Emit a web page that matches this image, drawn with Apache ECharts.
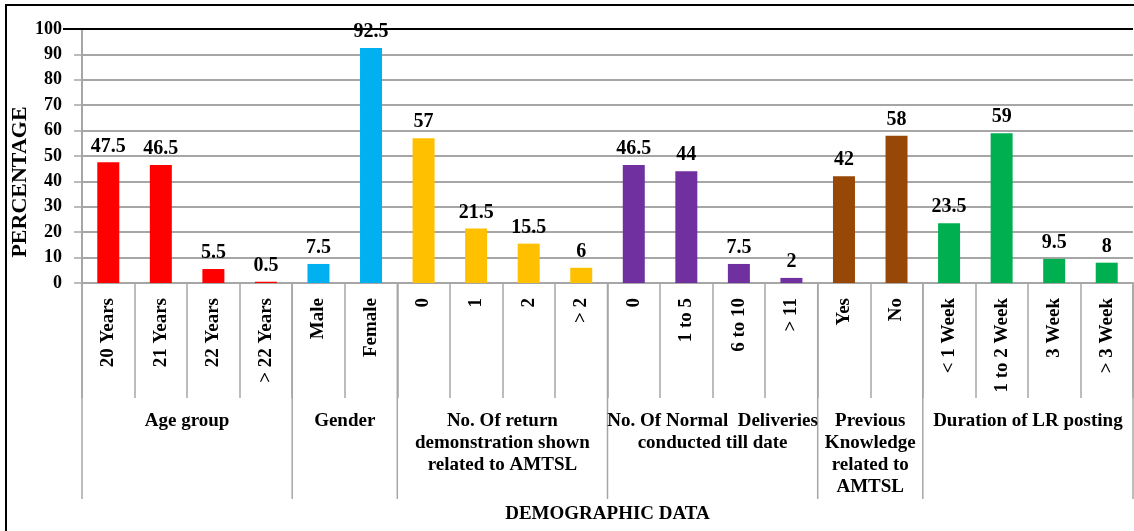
<!DOCTYPE html>
<html>
<head>
<meta charset="utf-8">
<script src="https://cdn.jsdelivr.net/npm/echarts@6/dist/echarts.min.js"></script>
<style>
  html, body { margin: 0; padding: 0; background: #fff; }
  #chart { width: 1134px; height: 531px; }
</style>
</head>
<body>
<div id="chart"></div>
<script>
// Category labels along the x axis
const categories = [
  '20 Years', '21 Years', '22 Years', '> 22 Years',
  'Male', 'Female',
  '0', '1', '2', '> 2',
  '0', '1 to 5', '6 to 10', '> 11',
  'Yes', 'No',
  '< 1 Week', '1 to 2 Week', '3 Week', '> 3 Week'
];

// Percentages for each category
const values = [
  47.5, 46.5, 5.5, 0.5,
  7.5, 92.5,
  57, 21.5, 15.5, 6,
  46.5, 44, 7.5, 2,
  42, 58,
  23.5, 59, 9.5, 8
];

// Group headings (lines separated by \n) and the number of categories in each
const groupNames = [
  'Age group',
  'Gender',
  'No. Of return\ndemonstration shown\nrelated to AMTSL',
  'No. Of Normal  Deliveries\nconducted till date',
  'Previous\nKnowledge\nrelated to\nAMTSL',
  'Duration of LR posting'
];
const groupSizes = [4, 2, 4, 4, 2, 4];

// One bar colour per group
const groupColors = ['#FF0000', '#00B0F0', '#FFC000', '#7030A0', '#974706', '#00B050'];

const yTicks = { min: 0, max: 100, interval: 10 };

const SERIF = "'Liberation Serif', 'Times New Roman', serif";
const GRID_GREY = '#A6A6A6';

// Map each category to the colour of its group
const barColors = [];
groupSizes.forEach((n, g) => { for (let i = 0; i < n; i++) barColors.push(groupColors[g]); });

const chart = echarts.init(document.getElementById('chart'));

chart.setOption({
  animation: false,
  backgroundColor: '#ffffff',
  grid: { left: 82, right: 1, top: 29, bottom: 248, containLabel: false },
  xAxis: {
    type: 'category',
    data: categories,
    axisLine: { lineStyle: { color: GRID_GREY, width: 2 } },
    axisTick: { show: true, length: 115, lineStyle: { color: GRID_GREY, width: 1.5 } },
    axisLabel: {
      interval: 0,
      rotate: 90,
      margin: 15,
      color: '#000',
      fontFamily: SERIF,
      fontWeight: 'bold',
      fontSize: 19
    }
  },
  yAxis: {
    type: 'value',
    min: yTicks.min,
    max: yTicks.max,
    interval: yTicks.interval,
    axisLine: { show: true, lineStyle: { color: GRID_GREY, width: 2 } },
    axisTick: { show: true, length: 8, lineStyle: { color: GRID_GREY, width: 1.5 } },
    axisLabel: {
      margin: 20,
      color: '#000',
      fontFamily: SERIF,
      fontWeight: 'bold',
      fontSize: 18
    },
    splitLine: { lineStyle: { color: GRID_GREY, width: 2 } }
  },
  series: [{
    type: 'bar',
    barWidth: 22,
    data: values.map((v, i) => ({ value: v, itemStyle: { color: barColors[i] } })),
    label: {
      show: true,
      position: 'top',
      distance: 6,
      color: '#000',
      fontFamily: SERIF,
      fontWeight: 'bold',
      fontSize: 20
    }
  }]
});

// Group separators, group headings, axis titles and frame
function drawExtras() {
  const c0 = chart.convertToPixel({ xAxisIndex: 0 }, 0);
  const c1 = chart.convertToPixel({ xAxisIndex: 0 }, 1);
  const band = c1 - c0;
  const y0 = chart.convertToPixel({ yAxisIndex: 0 }, yTicks.min);
  const y100 = chart.convertToPixel({ yAxisIndex: 0 }, yTicks.max);
  const boundary = (idx) => c0 - band / 2 + idx * band;

  const graphics = [];

  // Frame: left and top edges
  graphics.push({
    type: 'polyline',
    shape: { points: [[6, 531], [6, 5], [1134, 5]] },
    style: { stroke: '#000', lineWidth: 2, fill: null },
    z: 10
  });

  // Dark top gridline at 100
  graphics.push({
    type: 'line',
    shape: { x1: 63, y1: y100, x2: boundary(categories.length), y2: y100 },
    style: { stroke: '#000', lineWidth: 2 },
    z: 10
  });

  // Long separators between groups and group headings
  let start = 0;
  const bounds = [0];
  groupSizes.forEach((n, g) => {
    const end = start + n;
    bounds.push(end);
    const cx = (boundary(start) + boundary(end)) / 2;
    graphics.push({
      type: 'text',
      x: cx,
      y: 410,
      style: {
        text: groupNames[g],
        fill: '#000',
        fontFamily: SERIF,
        fontWeight: 'bold',
        fontSize: 19,
        align: 'center',
        verticalAlign: 'top',
        lineHeight: 22
      },
      z: 10
    });
    start = end;
  });
  bounds.forEach((b) => {
    graphics.push({
      type: 'line',
      shape: { x1: boundary(b), y1: y0, x2: boundary(b), y2: 499 },
      style: { stroke: GRID_GREY, lineWidth: 1.5 },
      z: 5
    });
  });

  // Axis titles
  graphics.push({
    type: 'text',
    x: 20,
    y: 182,
    rotation: Math.PI / 2,
    style: {
      text: 'PERCENTAGE',
      fill: '#000',
      fontFamily: SERIF,
      fontWeight: 'bold',
      fontSize: 22,
      align: 'center',
      verticalAlign: 'middle'
    },
    z: 10
  });
  graphics.push({
    type: 'text',
    x: (boundary(0) + boundary(categories.length)) / 2,
    y: 514,
    style: {
      text: 'DEMOGRAPHIC DATA',
      fill: '#000',
      fontFamily: SERIF,
      fontWeight: 'bold',
      fontSize: 19,
      align: 'center',
      verticalAlign: 'middle'
    },
    z: 10
  });

  chart.setOption({ graphic: graphics });
}

drawExtras();
</script>
</body>
</html>
